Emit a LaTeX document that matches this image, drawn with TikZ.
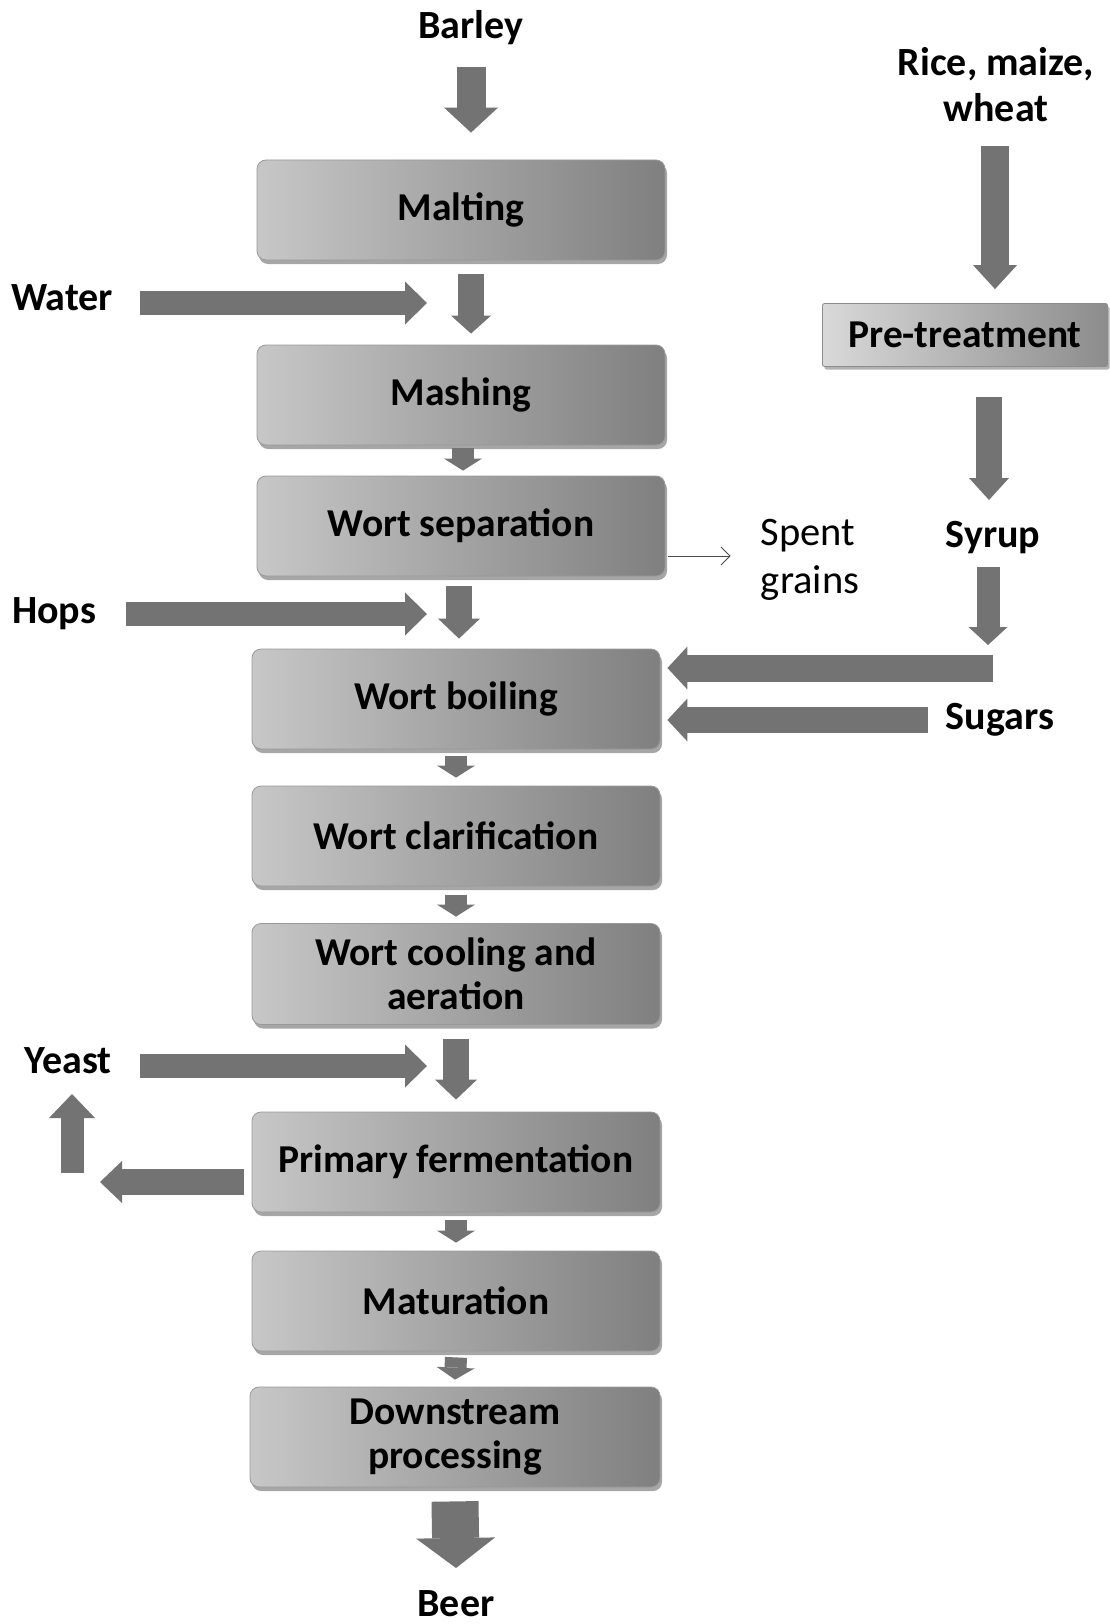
\documentclass[tikz,border=0pt]{standalone}
\usepackage{fontspec}
\setmainfont{Carlito}
\usetikzlibrary{arrows.meta,shadows,calc}
\tikzset{
 procbox/.style={rounded corners=9pt, minimum width=408pt, minimum height=100pt, inner sep=2pt,
   draw=black!40, line width=0.8pt, left color=black!22, right color=black!50,
   drop shadow={shadow xshift=2pt, shadow yshift=-4pt, opacity=0.35, fill=black},
   font=\bfseries\fontsize{39.5}{44}\selectfont, align=center, text=black},
 pretbox/.style={rounded corners=2pt, minimum width=285pt, minimum height=63pt, inner sep=2pt,
   draw=black!45, line width=0.8pt, left color=black!15, right color=black!45,
   drop shadow={shadow xshift=2pt, shadow yshift=-3pt, opacity=0.3, fill=black},
   font=\bfseries\fontsize{39.5}{44}\selectfont, text=black},
 lbl/.style={font=\bfseries\fontsize{40}{46}\selectfont, align=center, inner sep=0pt, text=black},
 lblr/.style={font=\fontsize{40.5}{48}\selectfont, align=left, inner sep=0pt, text=black},
 barrow/.style n args={3}{draw=black!55, line width=#1, -{Triangle[width=#2,length=#3,line width=0pt]}},
 thinarrow/.style={draw=black!70, line width=1pt, -{Straight Barb[length=9pt,width=18pt]}},
}
\begin{document}
\begin{tikzpicture}[x=1pt,y=-1pt]
\useasboundingbox[fill=white] (0,0) rectangle (1110,1624);
% process boxes
\node[procbox] (malting) at (461,210) {Malting};
\node[procbox] (mashing) at (461,395) {Mashing};
\node[procbox] (wortsep) at (461,526) {Wort separation};
\node[procbox] (boiling) at (456,699) {Wort boiling};
\node[procbox] (clarif) at (456,836) {Wort clarification};
\node[procbox, minimum height=101pt] (cooling) at (456,974) {Wort cooling and\\aeration};
\node[procbox] (ferm) at (456,1162) {Primary fermentation};
\node[procbox] (matur) at (456,1301) {Maturation};
\node[procbox, minimum width=410pt] (downs) at (455,1437) {Downstream\\processing};
\node[pretbox] (pret) at (965,335) {Pre-treatment};
% labels
\node[lbl] (barley) at (471,28) {Barley};
\node[lbl] (rice) at (996,85) {Rice, maize,\\wheat};
\node[lbl] (water) at (62,298) {Water};
\node[lbl] (hops) at (54,614) {Hops};
\node[lbl] (yeast) at (68,1061) {Yeast};
\node[lblr] (spent) at (810,560) {Spent\\grains};
\node[lbl] (syrup) at (993,538) {Syrup};
\node[lbl] (sugars) at (1000,720) {Sugars};
\node[lbl] (beer) at (456,1604) {Beer};
% arrows
\draw[barrow={29pt}{54pt}{25pt}] ($(barley)+(0,39)$) -- ($(malting.north -| barley)+(0,-27)$);
\draw[barrow={26pt}{40pt}{18pt}] ($(malting.south)+(10,14)$) -- ($(mashing.north)+(10,-11)$);
\draw[barrow={24pt}{43pt}{22pt}] ($(water)+(78,5)$) -- ($(water -| mashing.north)+(-34,5)$);
\draw[barrow={22pt}{38pt}{12pt}] ($(mashing.south)+(2,3)$) -- ($(wortsep.north)+(2,-5)$);
\draw[barrow={24pt}{43pt}{22pt}] ($(hops)+(72,0)$) -- ($(hops -| wortsep.south)+(-34,0)$);
\draw[barrow={26pt}{42pt}{20pt}] ($(wortsep.south)+(-2,10)$) -- ($(boiling.north)+(3,-10)$);
\draw[thinarrow] ($(wortsep.east)+(3,30)$) -- ($(spent.west |- wortsep.east)+(-30,30)$);
\draw[barrow={28pt}{44pt}{24pt}] ($(rice)+(-1,61)$) -- ($(pret.north)+(30,-14)$);
\draw[barrow={26pt}{40pt}{22pt}] ($(pret.south)+(24,30)$) -- ($(syrup)+(-4,-38)$);
\draw[barrow={23pt}{39pt}{18pt}] ($(syrup)+(-5,29)$) -- ($(syrup)+(-5,107)$);
\draw[barrow={27pt}{43pt}{20pt}] ($(syrup |- boiling.east)+(0,-31)$) -- ($(boiling.east)+(7,-31)$);
\draw[barrow={26pt}{43pt}{20pt}] ($(sugars)+(-72,0)$) -- ($(boiling.east |- sugars)+(7,0)$);
\draw[barrow={22pt}{38pt}{12pt}] ($(boiling.south)+(0,7)$) -- ($(clarif.north)+(0,-8)$);
\draw[barrow={22pt}{38pt}{12pt}] ($(clarif.south)+(0,9)$) -- ($(cooling.north)+(0,-6.5)$);
\draw[barrow={26pt}{42pt}{20pt}] ($(cooling.south)+(0,14.5)$) -- ($(ferm.north)+(0,-12)$);
\draw[barrow={24pt}{43pt}{22pt}] ($(yeast)+(72,5)$) -- ($(yeast -| ferm.north)+(-29,5)$);
\draw[barrow={26pt}{42pt}{22pt}] ($(ferm.west)+(-8,20)$) -- ($(yeast |- ferm.west)+(32,20)$);
\draw[barrow={23pt}{46pt}{24pt}] ($(yeast |- ferm.west)+(4,11)$) -- ($(yeast)+(4,33)$);
\draw[barrow={22pt}{38pt}{12pt}] ($(ferm.south)+(0,8)$) -- ($(matur.north)+(0,-8)$);
\draw[barrow={22pt}{38pt}{12pt}] ($(matur.south)+(0,6)$) -- ($(downs.north)+(0,-7)$);
\draw[barrow={47pt}{79pt}{30pt}] ($(downs.south)+(0,14)$) -- ($(beer)+(0,-36)$);
\end{tikzpicture}
\end{document}
